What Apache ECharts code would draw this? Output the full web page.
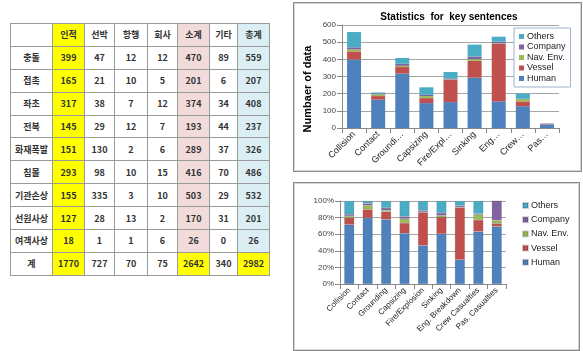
<!DOCTYPE html>
<html>
<head>
<meta charset="utf-8">
<script src="https://cdn.jsdelivr.net/npm/echarts@6/dist/echarts.min.js"></script>
<style>
  html, body { margin: 0; padding: 0; background: #fff; width: 583px; height: 351px; overflow: hidden; }
  #tbl { position: absolute; left: 10px; top: 23px; border-collapse: collapse; table-layout: fixed;
         font-family: "Noto Sans CJK KR", "Noto Sans", sans-serif; font-size: 9px; font-weight: bold; color: #333; }
  #tbl td { border: 1px solid #9a9a9a; text-align: center; vertical-align: middle; padding: 0; height: 21.9px; }
  .box { position: absolute; border: 1px solid #8a8a8a; box-shadow: inset 0 0 0 1px #d6d6d6; background: #fff; }
  #c1 { left: 293px; top: 2px; width: 287px; height: 168px; }
  #c2 { left: 293px; top: 182px; width: 285px; height: 167px; }
</style>
</head>
<body>
<table id="tbl"></table>
<div id="c1" class="box"></div>
<div id="c2" class="box"></div>
<script>
// Accident categories and cause counts
const categories = ['Collision', 'Contact', 'Grounding', 'Capsizing', 'Fire/Explosion', 'Sinking', 'Eng. Breakdown', 'Crew Casualties', 'Pas. Casualties'];
const shortLabels = ['Collision', 'Contact', 'Groundi…', 'Capsizing', 'Fire/Expl…', 'Sinking', 'Eng…', 'Crew…', 'Pas…'];
const human   = [399, 165, 317, 145, 151, 293, 155, 127, 18];
const vessel  = [47, 21, 38, 29, 130, 98, 335, 28, 1];
const navEnv  = [12, 10, 7, 12, 2, 10, 3, 13, 1];
const company = [12, 5, 12, 7, 6, 15, 10, 2, 6];
const others  = [89, 6, 34, 44, 37, 70, 29, 31, 0];
const subtotal = [470, 201, 374, 193, 289, 416, 503, 170, 26];
const total    = [559, 207, 408, 237, 326, 486, 532, 201, 26];
const colSums  = [1770, 727, 70, 75, 2642, 340, 2982];

// Korean table labels
const tableHeaders = ['', '인적', '선박', '항행', '회사', '소계', '기타', '총계'];
const rowNamesKo = ['충돌', '접촉', '좌초', '전복', '화재폭발', '침몰', '기관손상', '선원사상', '여객사상'];
const sumRowName = '계';

const seriesNames = ['Human', 'Vessel', 'Nav. Env.', 'Company', 'Others'];
const seriesData = [human, vessel, navEnv, company, others];
const colors = ['#4f81bd', '#c0504d', '#9bbb59', '#8064a2', '#4bacc6'];

// ---- table ----
(function buildTable() {
  const widths = [42, 32, 30, 33, 30, 32, 28, 32];
  const fills = [null, '#ffff00', null, null, null, '#f2dcdb', null, '#dbeef4'];
  const tbl = document.getElementById('tbl');
  const cg = document.createElement('colgroup');
  widths.forEach(w => { const c = document.createElement('col'); c.style.width = w + 'px'; cg.appendChild(c); });
  tbl.appendChild(cg);
  function addRow(cells, rowFills) {
    const tr = document.createElement('tr');
    cells.forEach((v, i) => {
      const td = document.createElement('td');
      td.textContent = v;
      if (rowFills[i]) td.style.background = rowFills[i];
      tr.appendChild(td);
    });
    tbl.appendChild(tr);
  }
  addRow(tableHeaders, fills);
  rowNamesKo.forEach((name, r) => {
    addRow([name, human[r], vessel[r], navEnv[r], company[r], subtotal[r], others[r], total[r]], fills);
  });
  addRow([sumRowName].concat(colSums), [null, '#ffff00', null, null, null, '#ffff00', null, '#ffff00']);
})();

const baseFont = 'Arial, "Liberation Sans", sans-serif';

// ---- stacked counts ----
const chart1 = echarts.init(document.getElementById('c1'), null, { renderer: 'canvas' });
chart1.setOption({
  animation: false,
  color: colors,
  title: {
    text: 'Statistics  for  key sentences', left: 150, top: 4, textAlign: 'center',
    textStyle: { fontSize: 10, fontWeight: 'bold', color: '#000', fontFamily: baseFont }
  },
  graphic: [{
    type: 'text', x: 14, y: 86, rotation: Math.PI / 2,
    style: {
      text: 'Numbaer of data', fontSize: 11, fontWeight: 'bold', fill: '#000', fontFamily: baseFont,
      align: 'center', verticalAlign: 'middle'
    }
  }],
  legend: {
    orient: 'vertical', left: 220, top: 25, padding: [4, 5, 4, 5],
    backgroundColor: '#fff', borderColor: '#9fb3cc', borderWidth: 1,
    itemWidth: 5, itemHeight: 5, itemGap: 1.5, icon: 'rect',
    data: seriesNames.slice().reverse(),
    textStyle: { fontSize: 9, color: '#222', fontFamily: baseFont, padding: [0, 0, 0, -2] }
  },
  grid: { left: 48, right: 22, top: 22, bottom: 43 },
  xAxis: {
    type: 'category', data: categories,
    axisLine: { lineStyle: { color: '#888' } },
    axisTick: { show: true, alignWithLabel: false, lineStyle: { color: '#888' } },
    axisLabel: {
      rotate: 45, fontSize: 9, color: '#222', fontFamily: baseFont, margin: 5, interval: 0,
      formatter: (v, i) => shortLabels[i]
    }
  },
  yAxis: {
    type: 'value', min: 0, max: 600, interval: 100,
    axisLine: { show: true, lineStyle: { color: '#888' } },
    axisTick: { show: true, lineStyle: { color: '#888' } },
    axisLabel: { fontSize: 8, color: '#444', fontFamily: baseFont, margin: 6 },
    splitLine: { lineStyle: { color: '#a6a6a6' } }
  },
  series: seriesNames.map((n, k) => ({
    name: n, type: 'bar', stack: 'all', barWidth: 14, data: seriesData[k]
  }))
});

// ---- 100% stacked shares ----
const totals = categories.map((_, i) => seriesData.reduce((s, arr) => s + arr[i], 0));
const chart2 = echarts.init(document.getElementById('c2'), null, { renderer: 'canvas' });
chart2.setOption({
  animation: false,
  color: colors,
  legend: {
    orient: 'vertical', left: 223, top: 13,
    itemWidth: 5, itemHeight: 5, itemGap: 5.2, icon: 'rect',
    data: seriesNames.slice().reverse(),
    textStyle: { fontSize: 9, color: '#222', fontFamily: baseFont, padding: [0, 0, 0, -2] }
  },
  grid: { left: 46, right: 73, top: 18, bottom: 66 },
  xAxis: {
    type: 'category', data: categories,
    axisLine: { lineStyle: { color: '#888' } },
    axisTick: { show: true, lineStyle: { color: '#888' } },
    axisLabel: { rotate: 45, fontSize: 8, color: '#222', fontFamily: baseFont, margin: 5, interval: 0 }
  },
  yAxis: {
    type: 'value', min: 0, max: 100, interval: 20,
    axisLine: { show: true, lineStyle: { color: '#888' } },
    axisTick: { show: true, lineStyle: { color: '#888' } },
    axisLabel: { fontSize: 8, color: '#444', fontFamily: baseFont, margin: 6, formatter: '{value}%' },
    splitLine: { lineStyle: { color: '#a6a6a6' } }
  },
  series: seriesNames.map((n, k) => ({
    name: n, type: 'bar', stack: 'all', barWidth: 10,
    itemStyle: { borderColor: 'rgba(0,0,0,0.18)', borderWidth: 0.5 },
    data: seriesData[k].map((v, i) => v / totals[i] * 100)
  }))
});
</script>
</body>
</html>
